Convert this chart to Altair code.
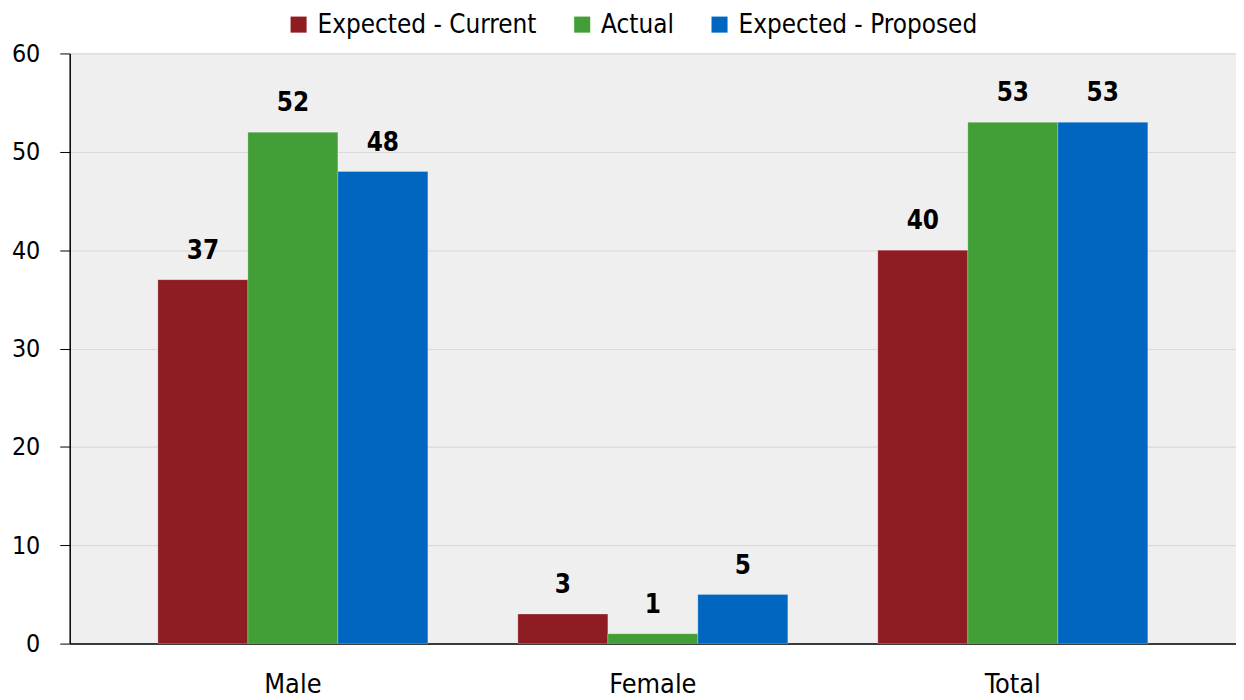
import altair as alt
import pandas as pd

groups = ["Male", "Female", "Total"]
series = ["Expected - Current", "Actual", "Expected - Proposed"]
expected_current = [37, 3, 40]
actual = [52, 1, 53]
expected_proposed = [48, 5, 53]
colors = ["#8E1C22", "#429E37", "#0066BF"]

rows = []
for i, g in enumerate(groups):
    for s, vals in zip(series, [expected_current, actual, expected_proposed]):
        rows.append({"group": g, "series": s, "value": vals[i]})
df = pd.DataFrame(rows)

FONT = "Liberation Sans Narrow, Arial Narrow, DejaVu Sans Condensed, Roboto Condensed, Liberation Sans, sans-serif"

base = alt.Chart(df).encode(
    x=alt.X("group:N", sort=groups, title=None,
            scale=alt.Scale(paddingInner=0.25, paddingOuter=0.245),
            axis=alt.Axis(labelAngle=0, ticks=False, labelPadding=28,
                          labelFontSize=27, labelFont=FONT, labelColor="#000",
                          domainColor="#000", domainWidth=1.5)),
    xOffset=alt.XOffset("series:N", sort=series),
)

bars = base.mark_bar(stroke="#ffffff", strokeOpacity=0.25, strokeWidth=1).encode(
    y=alt.Y("value:Q", title=None,
            scale=alt.Scale(domain=[0, 60], nice=False),
            axis=alt.Axis(values=[0, 10, 20, 30, 40, 50, 60], tickSize=10,
                          tickColor="#000", domainColor="#000", domainWidth=1.5,
                          labelFontSize=25, labelFont=FONT, labelColor="#000",
                          labelPadding=20, gridColor="#d9d9d9", gridWidth=1.2)),
    color=alt.Color("series:N", sort=series,
                    scale=alt.Scale(domain=series, range=colors),
                    legend=alt.Legend(title=None, orient="none", direction="horizontal",
                                      legendX=217, legendY=-42, symbolType="square",
                                      symbolSize=260, symbolStrokeWidth=0,
                                      labelFontSize=26, labelFont=FONT, labelColor="#000",
                                      labelLimit=0, columnPadding=32, symbolOffset=0,
                                      labelOffset=6)),
)

labels = base.mark_text(baseline="bottom", dy=-16, fontSize=26, fontWeight="bold",
                        font=FONT, color="#000").encode(
    y=alt.Y("value:Q"),
    text=alt.Text("value:Q"),
)

chart = (bars + labels).properties(
    width=1172, height=593, background="#ffffff",
    padding={"left": 3, "top": 2, "right": 0, "bottom": 0},
).configure_view(fill="#efefef", stroke=None)

chart.save("out.html", embed_options={"renderer": "svg", "actions": False})
